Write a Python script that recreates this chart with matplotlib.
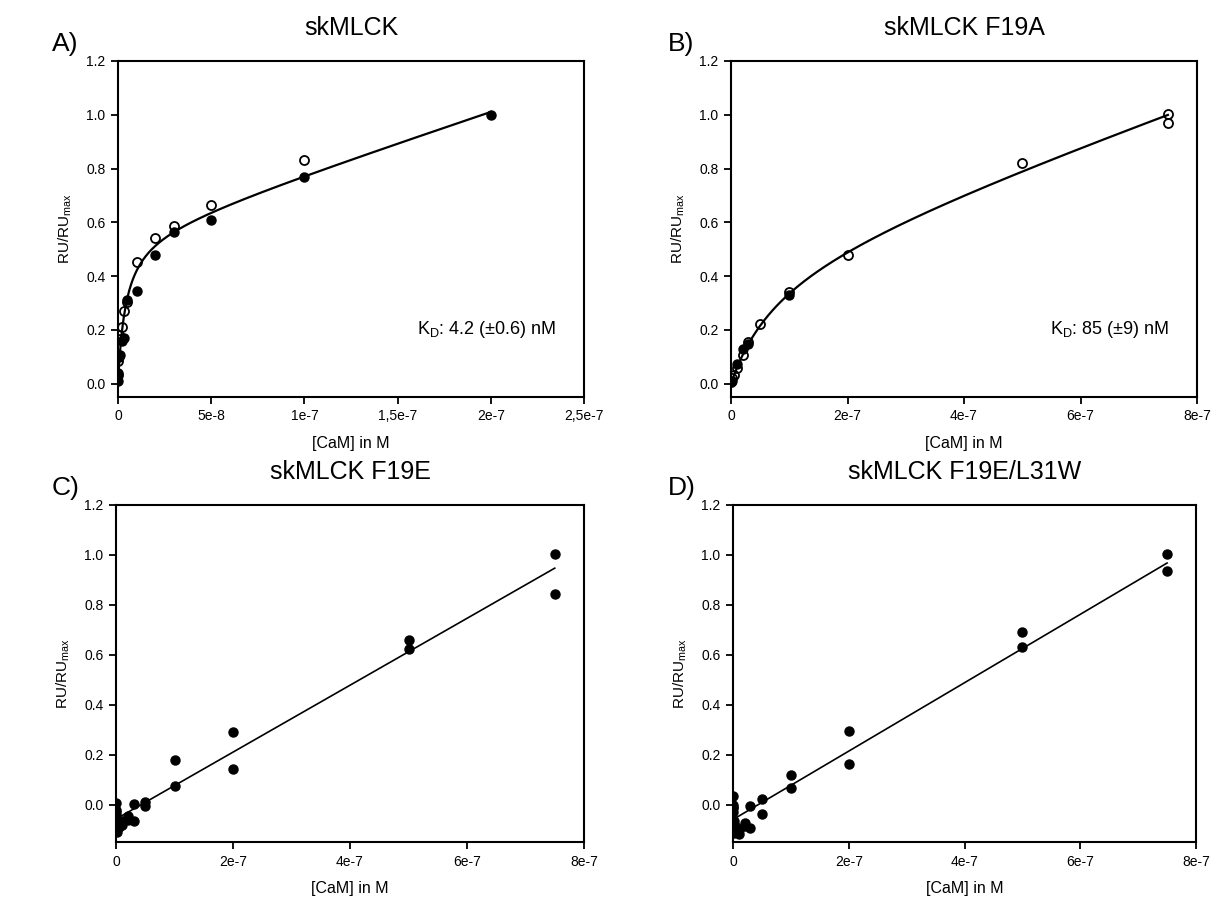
import numpy as np
import matplotlib
matplotlib.use("Agg")
import matplotlib.pyplot as plt

plt.rcParams['font.family'] = ['Liberation Sans', 'DejaVu Sans']
plt.rcParams['mathtext.default'] = 'regular'

NM = 1e-9

# ---- A) skMLCK : two replicate titrations (concentrations in nM) ----
a_conc_nM = [0.1, 0.25, 0.5, 1, 2, 3, 5, 10, 20, 30, 50, 100, 200]
a_filled = [0.01, 0.04, 0.10, 0.105, 0.16, 0.17, 0.31, 0.345, 0.478, 0.565, 0.61, 0.77, 1.0]
a_open_conc_nM = [0.1, 0.25, 0.5, 1, 2, 3, 5, 10, 20, 30, 50, 100]
a_open = [0.03, 0.085, 0.18, 0.165, 0.21, 0.27, 0.305, 0.451, 0.543, 0.586, 0.665, 0.83]
a_kd_nM, a_kd_err = 4.2, 0.6
a_bmax, a_nonspec = 0.564, 2.29e6

# ---- B) skMLCK F19A ----
b_conc_nM = [1, 10, 20, 30, 100]
b_filled = [0.01, 0.074, 0.127, 0.148, 0.331]
b_open_conc_nM = [0.5, 2, 5, 10, 20, 30, 50, 100, 200, 500, 750, 750]
b_open = [0.006, 0.02, 0.031, 0.058, 0.105, 0.155, 0.22, 0.341, 0.478, 0.819, 1.002, 0.97]
b_kd_nM, b_kd_err = 85, 9
b_bmax, b_nonspec = 0.478, 7.6e5

# ---- C) skMLCK F19E : two replicates per concentration ----
c_conc_nM = [0.1, 0.25, 0.5, 1, 2.5, 5, 10, 20, 30, 50, 100, 200, 500, 750]
c_rep1 = [0.005, -0.02, -0.03, -0.06, -0.08, -0.09, -0.08, -0.047, 0.003, 0.009, 0.18, 0.29, 0.66, 1.003]
c_rep2 = [-0.04, -0.05, -0.10, -0.11, -0.07, -0.085, -0.065, -0.06, -0.067, -0.004, 0.076, 0.143, 0.625, 0.845]
c_intercept, c_slope = -0.058, 1.34e6

# ---- D) skMLCK F19E/L31W ----
d_conc_nM = [0.1, 0.25, 0.5, 1, 2.5, 5, 10, 20, 30, 50, 100, 200, 500, 750]
d_rep1 = [0.033, 0.0, -0.015, -0.067, -0.08, -0.105, -0.116, -0.073, -0.007, 0.023, 0.12, 0.295, 0.69, 1.003]
d_rep2 = [-0.01, -0.03, -0.08, -0.10, -0.115, -0.09, -0.1, -0.085, -0.093, -0.036, 0.067, 0.164, 0.63, 0.935]
d_intercept, d_slope = -0.06, 1.37e6

titles = ['skMLCK', 'skMLCK F19A', 'skMLCK F19E', 'skMLCK F19E/L31W']
letters = ['A)', 'B)', 'C)', 'D)']
xticks_a = [0, 5e-8, 1e-7, 1.5e-7, 2e-7, 2.5e-7]
xticklabels_a = ['0', '5e-8', '1e-7', '1,5e-7', '2e-7', '2,5e-7']
xticks_w = [0, 2e-7, 4e-7, 6e-7, 8e-7]
xticklabels_w = ['0', '2e-7', '4e-7', '6e-7', '8e-7']
yticks = [0.0, 0.2, 0.4, 0.6, 0.8, 1.0, 1.2]

W, H = 1221, 899
fig = plt.figure(figsize=(W / 100, H / 100), dpi=100)


def px_rect(left, top, right, bottom):
    return [left / W, 1 - bottom / H, (right - left) / W, (bottom - top) / H]


axA = fig.add_axes(px_rect(118, 61, 584, 397))
axB = fig.add_axes(px_rect(731, 61, 1197, 397))
axC = fig.add_axes(px_rect(116, 505, 584, 842))
axD = fig.add_axes(px_rect(733, 505, 1196, 842))
axes = [axA, axB, axC, axD]

filled_kw = dict(ls='none', marker='o', ms=6.5, mfc='black', mec='black', mew=1.0, zorder=3)
open_kw = dict(ls='none', marker='o', ms=6.5, mfc='none', mec='black', mew=1.3, zorder=4)


def binding(x, kd, bmax, ns):
    return bmax * x / (kd + x) + ns * x


# A
xa = np.linspace(0, max(a_conc_nM) * NM, 400)
axA.plot(xa, binding(xa, a_kd_nM * NM, a_bmax, a_nonspec), color='black', lw=1.6, zorder=2)
axA.plot(np.array(a_conc_nM) * NM, a_filled, **filled_kw)
axA.plot(np.array(a_open_conc_nM) * NM, a_open, **open_kw)

# B
xb = np.linspace(0, max(b_open_conc_nM) * NM, 400)
axB.plot(xb, binding(xb, b_kd_nM * NM, b_bmax, b_nonspec), color='black', lw=1.6, zorder=2)
axB.plot(np.array(b_conc_nM) * NM, b_filled, **filled_kw)
axB.plot(np.array(b_open_conc_nM) * NM, b_open, **open_kw)

# C and D: linear fits
for ax, conc, r1, r2, b0, m in [(axC, c_conc_nM, c_rep1, c_rep2, c_intercept, c_slope),
                                (axD, d_conc_nM, d_rep1, d_rep2, d_intercept, d_slope)]:
    xs = np.array([0, max(conc) * NM])
    ax.plot(xs, b0 + m * xs, color='black', lw=1.2, zorder=2)
    ax.plot(np.array(conc) * NM, r1, **filled_kw)
    ax.plot(np.array(conc) * NM, r2, **filled_kw)

axA.text(0.94, 0.20, 'K$_\\mathregular{D}$: %.1f (±%.1f) nM' % (a_kd_nM, a_kd_err),
         transform=axA.transAxes, ha='right', va='center', fontsize=13)
axB.text(0.94, 0.20, 'K$_\\mathregular{D}$: %d (±%d) nM' % (b_kd_nM, b_kd_err),
         transform=axB.transAxes, ha='right', va='center', fontsize=13)

for i, ax in enumerate(axes):
    if i == 0:
        ax.set_xlim(0, 2.5e-7)
        ax.set_xticks(xticks_a, xticklabels_a)
    else:
        ax.set_xlim(0, 8e-7)
        ax.set_xticks(xticks_w, xticklabels_w)
    ax.set_ylim(-0.05 if i < 2 else -0.15, 1.2)
    ax.set_yticks(yticks, ['%.1f' % v for v in yticks])
    for s in ax.spines.values():
        s.set_linewidth(1.5)
    ax.tick_params(direction='out', length=5, width=1.3, labelsize=10, pad=4)
    ax.set_xlabel('[CaM] in M', fontsize=11.5, labelpad=9)
    ax.set_ylabel('RU/RU$_\\mathregular{max}$', fontsize=11, labelpad=9)
    ax.set_title(titles[i], fontsize=18, pad=19)

letter_pos = [(52, 44), (668, 44), (52, 488), (668, 488)]
for (lx, ly), letter in zip(letter_pos, letters):
    fig.text(lx / W, 1 - ly / H, letter, fontsize=19, va='center', ha='left',
             family=['Liberation Sans Narrow', 'Liberation Sans'])

fig.savefig('out.png', dpi=100, facecolor='white')
